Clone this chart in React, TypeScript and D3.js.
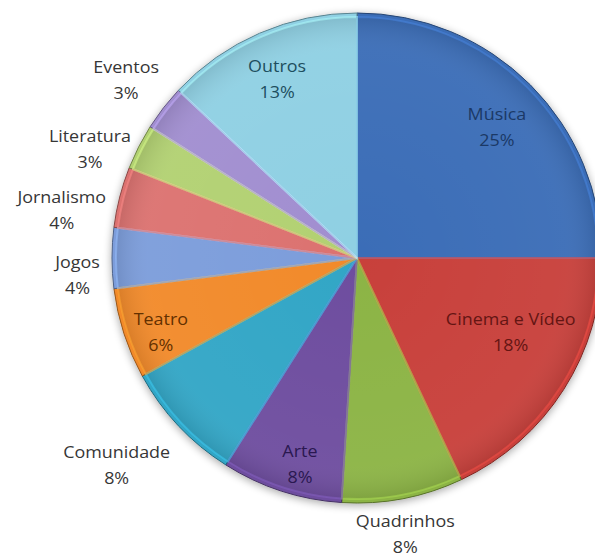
import React from "react";
import * as d3 from "d3";

const categories = ["Música", "Cinema e Vídeo", "Quadrinhos", "Arte", "Comunidade", "Teatro", "Jogos", "Jornalismo", "Literatura", "Eventos", "Outros"];
const values = [25, 18, 8, 8, 8, 6, 4, 4, 3, 3, 13];

const colors = ["#3b6db7", "#c8403a", "#8cb444", "#6e4e9f", "#31a6c6", "#f28a2a", "#7c9ddb", "#dc7270", "#b2d172", "#a18ed0", "#8fd0e3"];
const textColors = ["#1b3966", "#641513", "#363636", "#2a1850", "#363636", "#633000", "#363636", "#363636", "#363636", "#363636", "#1d4e5e"];
const labelRadius = [191, 171, 281, 215, 318, 210, 280, 299, 288, 291, 195];
const labelAngleShift = [2.1, -6.4, 0.9, -2.6, 2.3, -2.9, -3.7, -5.3, -5, -0.3, -0.8];

const W = 595, H = 558;
const cx = 357, cy = 258, R = 245;

export default function App() {
  const pie = d3.pie<number>().sort(null).value((d) => d);
  const arcs = pie(values);
  const arc = d3.arc<d3.PieArcDatum<number>>().innerRadius(0).outerRadius(R);
  const inner = d3.arc<d3.PieArcDatum<number>>().innerRadius(0).outerRadius(R - 4);

  return (
    <svg width={W} height={H} style={{ position: "absolute", left: 0, top: 0, background: "#fff" }} fontFamily="'Open Sans', sans-serif">
      <defs>
        <filter id="sh" x="-20%" y="-20%" width="140%" height="140%">
          <feGaussianBlur in="SourceAlpha" stdDeviation="4" />
          <feOffset dx="0" dy="2" result="b" />
          <feComponentTransfer><feFuncA type="linear" slope="0.35" /></feComponentTransfer>
          <feMerge><feMergeNode /><feMergeNode in="SourceGraphic" /></feMerge>
        </filter>
        <radialGradient id="gl" cx="0" cy="0" r={R} gradientUnits="userSpaceOnUse">
          <stop offset="0" stopColor="#fff" stopOpacity="0" />
          <stop offset="0.85" stopColor="#fff" stopOpacity="0.04" />
          <stop offset="1" stopColor="#000" stopOpacity="0.12" />
        </radialGradient>
      </defs>
      <g transform={`translate(${cx},${cy})`}>
        <g filter="url(#sh)">
          {arcs.map((a, i) => (
            <path key={i} d={arc(a) || ""} fill={colors[i]} stroke={d3.color(colors[i])!.darker(1.3).toString()} strokeWidth={1} />
          ))}
        </g>
        {arcs.map((a, i) => (
          <path key={"h" + i} d={inner(a) || ""} fill="url(#gl)" stroke={d3.color(colors[i])!.brighter(0.6).toString()} strokeOpacity={0.5} strokeWidth={2} />
        ))}
        {arcs.map((a, i) => {
          const ang = (a.startAngle + a.endAngle) / 2 + (labelAngleShift[i] * Math.PI) / 180;
          const x = Math.sin(ang) * labelRadius[i];
          const y = -Math.cos(ang) * labelRadius[i];
          return (
            <g key={"t" + i} transform={`translate(${x},${y}) scale(1.12,1)`} fill={textColors[i]} fontSize={16} textAnchor="middle">
              <text y={-8}>{categories[i]}</text>
              <text y={18}>{values[i]}%</text>
            </g>
          );
        })}
      </g>
    </svg>
  );
}
